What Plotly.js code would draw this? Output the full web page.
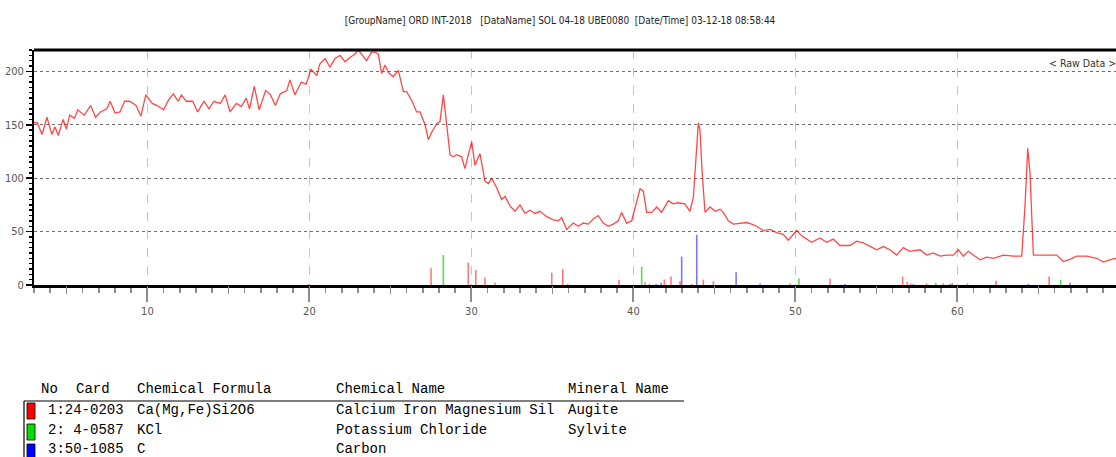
<!DOCTYPE html>
<html>
<head>
<meta charset="utf-8">
<script src="https://cdn.plot.ly/plotly-3.0.1.min.js"></script>
<style>
  html, body { margin: 0; padding: 0; overflow: hidden; background: #fff; }
  #chart { width: 1122px; height: 457px; }
</style>
</head>
<body>
<div id="chart"></div>
<script>
// ---- measured pattern (2-theta, intensity) ----
const twoTheta = [3.0,3.2,3.5,3.8,4.1,4.3,4.5,4.8,5.0,5.2,5.5,5.7,6.1,6.5,6.8,7.1,7.5,7.7,8.0,8.3,8.6,8.9,9.3,9.6,9.9,10.3,10.6,11.0,11.3,11.6,11.9,12.1,12.4,12.8,13.1,13.5,13.8,14.1,14.5,14.8,15.1,15.5,15.8,16.1,16.3,16.6,16.9,17.3,17.6,17.9,18.2,18.6,18.8,19.1,19.5,19.8,20.1,20.45,20.65,20.96,21.27,21.58,21.89,22.2,22.5,22.8,23.02,23.23,23.53,23.84,24.05,24.26,24.46,24.67,24.87,25.18,25.49,25.8,26.0,26.31,26.62,26.83,27.14,27.34,27.55,27.86,28.06,28.27,28.47,28.68,28.89,29.09,29.4,29.6,29.81,30.02,30.22,30.53,30.84,31.05,31.25,31.56,31.87,32.08,32.38,32.69,33.0,33.31,33.62,33.93,34.23,34.65,35.06,35.37,35.57,35.88,36.29,36.6,36.91,37.22,37.53,37.83,38.14,38.45,38.76,39.07,39.27,39.58,39.89,40.1,40.41,40.61,40.82,41.13,41.44,41.74,42.16,42.46,42.77,43.18,43.49,43.7,43.86,44.01,44.11,44.25,44.42,44.73,45.04,45.35,45.55,45.86,46.17,46.58,47.0,47.3,47.6,48.02,48.43,48.84,49.25,49.56,49.9,50.08,50.39,50.7,51.0,51.52,51.93,52.34,52.75,53.37,53.78,54.19,54.6,55.02,55.43,55.84,56.25,56.66,57.07,57.69,58.1,58.51,58.93,59.34,59.75,60.06,60.37,60.67,60.98,61.4,61.81,62.22,62.84,63.45,63.97,64.17,64.34,64.48,64.69,65.1,65.72,66.13,66.54,66.95,67.36,67.98,68.6,69.01,69.42,69.73,70.1];
const intensity = [152,152,141,157,141,148,140,155,146,159,156,164,159,168,157,162,165,172,161,162,172,172,168,158,178,170,168,164,173,179,172,178,172,172,162,172,165,172,170,178,162,170,167,175,165,186,164,182,178,168,179,182,192,178,190,188,202,196,207,212,204,212,215,209,213,216,220,216,210,218,218,216,198,206,199,195,201,181,181,173,162,162,150,136,143,151,153,178,151,122,120,122,120,109,122,134,112,123,97,95,100,91,80,83,74,69,75,67,70,67,69,64,61,60,63,52,58,55,58,57,62,65,58,55,57,60,68,58,60,73,90,88,68,68,73,68,79,76,77,76,69,82,120,152,145,104,68,73,69,71,68,60,57,57.6,58.5,57,55,51,52,49,47.5,42,48,51,46,43,40,44,40,43,37,37,41,39.5,36,33,36,33,28,35,31.5,33,28,30,27,28,28,33,27,31.5,28,23.6,26,25,28,27,27,73,128,105,28,28,28,28,22,24,27,27,25,21.4,23.6,25,24];

// ---- reference card sticks ----
const augitePos = [19.95,27.51,29.81,30.27,30.84,31.46,34.96,35.64,35.95,39.11,40.72,40.99,41.91,42.32,42.88,43.6,44.32,44.94,49.67,52.14,56.62,56.91,57.12,58.1,59.13,59.69,60.62,62.39,65.66];
const augiteInt = [1,15.7,21,14,7,2,11.5,14.7,1,5,2.5,1,5,8,3.5,1,5,3.5,1.5,6,8,3,1.5,1.5,1.5,2,1.5,4,8];
const sylvitePos = [28.27,40.51,50.22,58.66,66.38];
const sylviteInt = [28,17,6,2,5];
const carbonPos = [41.4,41.71,42.98,43.91,46.34,47.82,53.06,57.28,59.55,64.38,66.95];
const carbonInt = [1,2,26.6,47,12,1.5,1,1,1,1,2];

// ---- ticks / texts ----
const xTickVals = [10,20,30,40,50,60,70];
const yTickVals = [0,50,100,150,200];
const titleText = "[GroupName] ORD INT-2018   [DataName] SOL 04-18 UBE0080  [Date/Time] 03-12-18 08:58:44";
const rawDataLabel = "< Raw Data >";

// ---- card table ----
const tableHeaders = ["No", "Card", "Chemical Formula", "Chemical Name", "Mineral Name"];
const cardNo = ["1", "2", "3"];
const cardIds = ["24-0203", " 4-0587", "50-1085"];
const cardFormulas = ["Ca(Mg,Fe)Si2O6", "KCl", "C"];
const cardChemNames = ["Calcium Iron Magnesium Sil", "Potassium Chloride", "Carbon"];
const cardMinerals = ["Augite", "Sylvite", ""];
const cardColors = ["#ff0000", "#00e000", "#0000ff"];
const stickColors = ["#ff7878", "#55dd55", "#7878ff"];

// ---- geometry helpers (pixel -> paper) ----
const W = 1122, H = 457;
const M = {l: 34, r: 0, t: 50, b: 172};
const PW = W - M.l - M.r, PH = H - M.t - M.b;
const px = x => (x - M.l) / PW;
const py = y => (H - M.b - y) / PH;

const mono = {family: "Liberation Mono, DejaVu Sans Mono, monospace", size: 14, color: "#000"};
const narrow = "DejaVu Sans Condensed, Liberation Sans Narrow, Arial Narrow, sans-serif";

// stick segments (x,x,null / 0,h,null) built from the card arrays
function sticks(pos, val, color) {
  const xs = [], ys = [];
  pos.forEach((p, i) => { xs.push(p, p, null); ys.push(0, val[i], null); });
  return {type: "scatter", mode: "lines", x: xs, y: ys, line: {color: color, width: 1.6}, showlegend: false, connectgaps: false};
}

const traces = [
  sticks(augitePos, augiteInt, stickColors[0]),
  sticks(sylvitePos, sylviteInt, stickColors[1]),
  sticks(carbonPos, carbonInt, stickColors[2]),
  {type: "scatter", mode: "lines", x: twoTheta, y: intensity, line: {color: "rgba(255,0,0,0.72)", width: 1.3}, showlegend: false},
  // helper trace on overlay axis to draw the medium (every 5 deg) ticks
  {type: "scatter", mode: "lines", x: [twoTheta[0], twoTheta[twoTheta.length-1]], y: [null, null], xaxis: "x2", yaxis: "y", showlegend: false, hoverinfo: "skip"}
];

const annotations = [];
annotations.push({xref: "paper", yref: "paper", x: px(1118), y: py(63), xanchor: "right", yanchor: "middle", text: rawDataLabel, showarrow: false, font: {family: narrow, size: 10.5, color: "#333"}});

// header
const headerX = [39, 74, 135, 334, 566];
tableHeaders.forEach((h, i) => annotations.push({xref: "paper", yref: "paper", x: px(headerX[i]), y: py(389), xanchor: "left", yanchor: "middle", text: h, showarrow: false, font: mono}));
const rowY = [410, 430, 449];
cardNo.forEach((n, i) => {
  const cols = [[46, n + ":" + cardIds[i]], [135, cardFormulas[i]], [334, cardChemNames[i]], [566, cardMinerals[i]]];
  cols.forEach(c => { if (c[1]) annotations.push({xref: "paper", yref: "paper", x: px(c[0]), y: py(rowY[i]), xanchor: "left", yanchor: "middle", text: c[1].replace(/ /g, "&nbsp;"), showarrow: false, font: mono}); });
});

const shapes = [
  // thick top frame line
  {type: "line", xref: "paper", yref: "paper", x0: 0, x1: 1, y0: 1, y1: 1, line: {color: "#000", width: 3}},
  // table rules
  {type: "line", xref: "paper", yref: "paper", x0: px(24), x1: px(684), y0: py(401), y1: py(401), line: {color: "#000", width: 1.2}},
  {type: "line", xref: "paper", yref: "paper", x0: px(24), x1: px(24), y0: py(401), y1: py(460), line: {color: "#000", width: 1.2}}
];
const boxY = [[403, 419], [424, 440], [444, 460]];
cardColors.forEach((c, i) => shapes.push({type: "rect", xref: "paper", yref: "paper", x0: px(27), x1: px(35), y0: py(boxY[i][0]), y1: py(boxY[i][1]), fillcolor: c, line: {color: "#000", width: 0.8}}));

const xr = [3, 3 + PW / 16.2];
const layout = {
  width: W, height: H, margin: M,
  paper_bgcolor: "#fff", plot_bgcolor: "#fff",
  title: {text: titleText, xref: "container", x: 560 / W, xanchor: "center", y: 1 - 20 / H, yanchor: "middle", font: {family: narrow, size: 10, color: "#222"}},
  xaxis: {
    range: xr, tickmode: "array", tickvals: xTickVals, ticktext: xTickVals.map(String),
    ticks: "outside", ticklen: 14, tickwidth: 2, tickcolor: "#8c8c8c",
    minor: {dtick: 1, tick0: 0, ticks: "outside", ticklen: 5, tickwidth: 1.5, tickcolor: "#8c8c8c", showgrid: false},
    showgrid: true, gridcolor: "#c4c4c4", griddash: "dash", gridwidth: 1.3,
    showline: true, linecolor: "#000", linewidth: 3, zeroline: false,
    tickfont: {family: narrow, size: 11, color: "#555"}, fixedrange: true
  },
  xaxis2: {
    range: xr, overlaying: "x", side: "bottom", anchor: "y", dtick: 5, tick0: 0,
    ticks: "outside", ticklen: 8, tickwidth: 1.5, tickcolor: "#8c8c8c", showticklabels: false,
    showgrid: false, zeroline: false, showline: false, fixedrange: true
  },
  yaxis: {
    range: [0, 220], tickmode: "array", tickvals: yTickVals, ticktext: yTickVals.map(String),
    ticks: "outside", ticklen: 6, tickwidth: 1.5, tickcolor: "#000",
    minor: {dtick: 5, tick0: 0, ticks: "outside", ticklen: 3, tickwidth: 1.5, tickcolor: "#000", showgrid: false},
    showgrid: true, gridcolor: "#6e6e6e", griddash: "dot", gridwidth: 1,
    showline: true, linecolor: "#000", linewidth: 2, zeroline: false,
    tickfont: {family: narrow, size: 11, color: "#555"}, fixedrange: true
  },
  annotations: annotations,
  shapes: shapes,
  showlegend: false
};

Plotly.newPlot("chart", traces, layout, {displayModeBar: false, staticPlot: true});
</script>
</body>
</html>
